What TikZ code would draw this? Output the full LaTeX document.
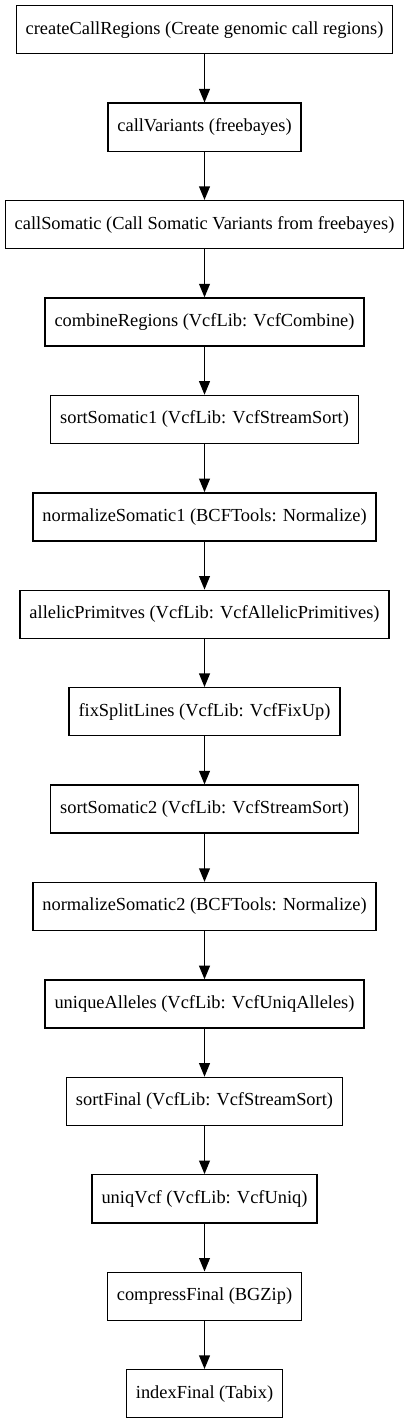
\documentclass[tikz,border=0pt]{standalone}
\usepackage{fontspec}
\setmainfont{Liberation Serif}
\usetikzlibrary{shapes,positioning,arrows.meta}
\begin{document}
\begin{tikzpicture}
\tikzstyle{task}=[rectangle,draw,line width=1pt,minimum height=35.5pt,inner xsep=7pt,font=\fontsize{13.6}{16}\selectfont]
\tikzstyle{flow}=[-{Triangle[length=10pt,width=8pt]},line width=1pt]
\useasboundingbox (-151.15pt,22pt) rectangle (151.15pt,-1029.7pt);
\node[task] (createCallRegions) at (0,0) {createCallRegions (Create genomic call regions)};
\node[task,below=35.5pt of createCallRegions] (callVariants) {callVariants (freebayes)};
\node[task,below=35.5pt of callVariants] (callSomatic) {callSomatic (Call Somatic Variants from freebayes)};
\node[task,below=35.5pt of callSomatic] (combineRegions) {combineRegions (VcfLib: VcfCombine)};
\node[task,below=35.5pt of combineRegions] (sortSomatic1) {sortSomatic1 (VcfLib: VcfStreamSort)};
\node[task,below=35.5pt of sortSomatic1] (normalizeSomatic1) {normalizeSomatic1 (BCFTools: Normalize)};
\node[task,below=35.5pt of normalizeSomatic1] (allelicPrimitves) {allelicPrimitves (VcfLib: VcfAllelicPrimitives)};
\node[task,below=35.5pt of allelicPrimitves] (fixSplitLines) {fixSplitLines (VcfLib: VcfFixUp)};
\node[task,below=35.5pt of fixSplitLines] (sortSomatic2) {sortSomatic2 (VcfLib: VcfStreamSort)};
\node[task,below=35.5pt of sortSomatic2] (normalizeSomatic2) {normalizeSomatic2 (BCFTools: Normalize)};
\node[task,below=35.5pt of normalizeSomatic2] (uniqueAlleles) {uniqueAlleles (VcfLib: VcfUniqAlleles)};
\node[task,below=35.5pt of uniqueAlleles] (sortFinal) {sortFinal (VcfLib: VcfStreamSort)};
\node[task,below=35.5pt of sortFinal] (uniqVcf) {uniqVcf (VcfLib: VcfUniq)};
\node[task,below=35.5pt of uniqVcf] (compressFinal) {compressFinal (BGZip)};
\node[task,below=35.5pt of compressFinal] (indexFinal) {indexFinal (Tabix)};
\foreach \a/\b in {createCallRegions/callVariants,callVariants/callSomatic,callSomatic/combineRegions,
  combineRegions/sortSomatic1,sortSomatic1/normalizeSomatic1,normalizeSomatic1/allelicPrimitves,
  allelicPrimitves/fixSplitLines,fixSplitLines/sortSomatic2,sortSomatic2/normalizeSomatic2,
  normalizeSomatic2/uniqueAlleles,uniqueAlleles/sortFinal,sortFinal/uniqVcf,
  uniqVcf/compressFinal,compressFinal/indexFinal}
  \draw[flow] (\a) -- (\b);
\end{tikzpicture}
\end{document}
